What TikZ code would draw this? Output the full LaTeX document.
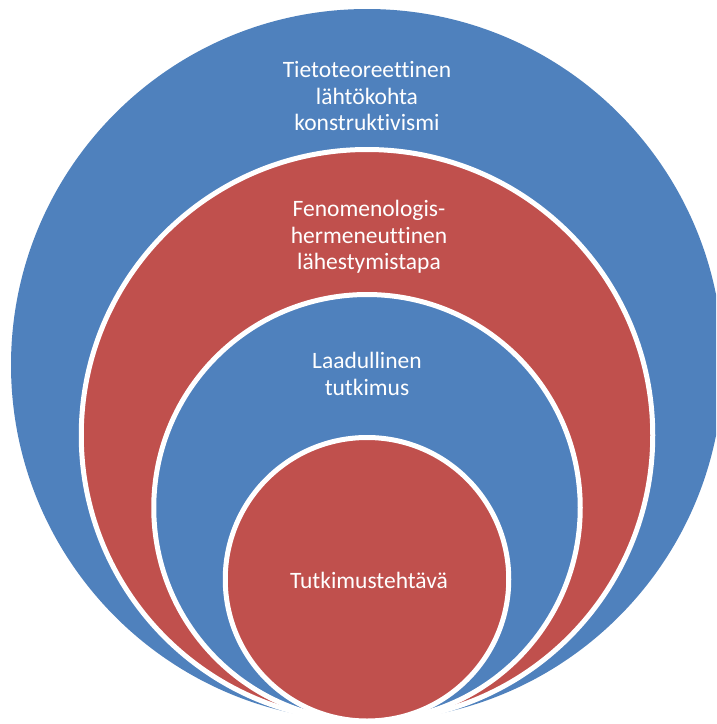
\documentclass[tikz,border=0pt]{standalone}
\usepackage{fontspec}
\setmainfont{Carlito}[RawFeature=-liga]
\definecolor{oblue}{HTML}{4F81BD}
\definecolor{ored}{HTML}{C0504D}
\tikzset{
  ring/.style={line width=5pt, draw=white},
  lbl/.style={text=white, align=center, font=\fontsize{23.5}{26.5}\selectfont, inner sep=0pt}
}
\begin{document}
\begin{tikzpicture}[x=1pt,y=-1pt]
\useasboundingbox (0,0) rectangle (716,724);
\clip (0,0) rectangle (716,724);
\fill[oblue] (367,365) circle (356);
\filldraw[ring, fill=ored] (367,435.25) circle (285.75);
\filldraw[ring, fill=oblue] (367,507.75) circle (213.25);
\filldraw[ring, fill=ored] (367,579.25) circle (141.75);
\node[lbl] (t1) at (367,96) {Tietoteoreettinen\\lähtökohta\\konstruktivismi};
\node[lbl] (t2) at (369,237) {Fenomenologis-\\hermeneuttinen\\lähestymistapa};
\node[lbl] (t3) at (367,374) {Laadullinen\\tutkimus};
\node[lbl] (t4) at (369,580) {Tutkimustehtävä};
\end{tikzpicture}
\end{document}
